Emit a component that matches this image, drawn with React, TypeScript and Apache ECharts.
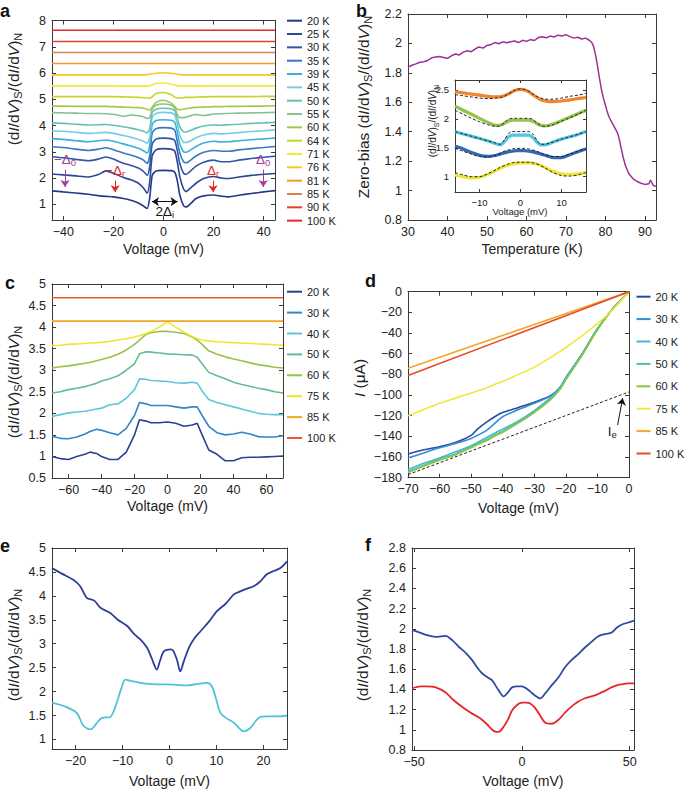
import React, { useEffect, useRef } from 'react';
import * as echarts from 'echarts';

const FONT = "'Liberation Sans', Arial, Helvetica, sans-serif";

// ---------------- Panel a ----------------
const voltageA = [-44.5, -40, -35, -30, -26, -23, -20, -16, -13, -10, -8, -6.5, -5.5, -4.5, -3, 0, 3, 4.5, 5.5, 6.5, 8, 9, 10, 13, 16, 20, 23, 26, 30, 35, 40, 44.5];
const edgesA = [-44.5, 44.5];
const a20K = [1.51, 1.47, 1.43, 1.38, 1.33, 1.30, 1.28, 1.22, 1.15, 1.05, 0.93, 0.84, 1.25, 2.10, 2.27, 2.29, 2.28, 2.22, 1.90, 1.35, 0.95, 0.90, 0.95, 1.22, 1.32, 1.35, 1.31, 1.28, 1.34, 1.41, 1.47, 1.52];
const a25K = [2.15, 2.12, 2.08, 2.04, 2.13, 2.27, 2.18, 2.02, 1.93, 1.80, 1.62, 1.42, 1.85, 2.85, 3.07, 3.12, 3.10, 3.02, 2.62, 2.05, 1.58, 1.48, 1.55, 1.80, 1.98, 2.06, 2.00, 1.98, 2.04, 2.10, 2.14, 2.17];
const a30K = [2.81, 2.77, 2.71, 2.66, 2.72, 2.80, 2.72, 2.56, 2.48, 2.38, 2.25, 2.10, 2.45, 3.30, 3.48, 3.52, 3.50, 3.42, 3.05, 2.55, 2.18, 2.14, 2.20, 2.45, 2.60, 2.68, 2.62, 2.62, 2.68, 2.74, 2.79, 2.83];
const a35K = [3.19, 3.16, 3.10, 3.05, 3.10, 3.15, 3.08, 2.95, 2.87, 2.78, 2.68, 2.55, 2.85, 3.72, 3.88, 3.92, 3.90, 3.82, 3.40, 2.95, 2.62, 2.58, 2.62, 2.84, 2.98, 3.05, 3.02, 3.02, 3.07, 3.12, 3.16, 3.20];
const a39K = [3.50, 3.47, 3.42, 3.38, 3.42, 3.45, 3.40, 3.30, 3.22, 3.13, 3.04, 2.95, 3.25, 4.05, 4.19, 4.22, 4.20, 4.12, 3.75, 3.30, 3.00, 2.98, 3.02, 3.20, 3.33, 3.40, 3.37, 3.38, 3.42, 3.46, 3.49, 3.52];
const a45K = [3.80, 3.78, 3.74, 3.70, 3.72, 3.74, 3.70, 3.62, 3.55, 3.47, 3.40, 3.32, 3.55, 4.32, 4.46, 4.50, 4.48, 4.40, 4.05, 3.62, 3.36, 3.35, 3.38, 3.53, 3.64, 3.70, 3.68, 3.70, 3.73, 3.77, 3.80, 3.83];
const a50K = [4.10, 4.08, 4.05, 4.02, 4.03, 4.04, 4.01, 3.95, 3.90, 3.84, 3.78, 3.72, 3.88, 4.50, 4.62, 4.66, 4.64, 4.56, 4.28, 3.95, 3.76, 3.75, 3.78, 3.90, 3.98, 4.02, 4.01, 4.03, 4.05, 4.08, 4.10, 4.12];
const a55K = [4.49, 4.48, 4.47, 4.46, 4.46, 4.45, 4.43, 4.35, 4.40, 4.37, 4.33, 4.27, 4.30, 4.62, 4.78, 4.82, 4.78, 4.66, 4.42, 4.30, 4.30, 4.32, 4.35, 4.42, 4.38, 4.44, 4.45, 4.46, 4.47, 4.48, 4.49, 4.50];
const a60K = [4.74, 4.74, 4.73, 4.73, 4.73, 4.73, 4.72, 4.70, 4.69, 4.68, 4.66, 4.62, 4.58, 4.70, 4.88, 4.96, 4.86, 4.72, 4.62, 4.60, 4.62, 4.64, 4.66, 4.69, 4.70, 4.72, 4.72, 4.73, 4.73, 4.74, 4.74, 4.75];
const a64K = [5.10, 5.10, 5.10, 5.10, 5.10, 5.10, 5.10, 5.09, 5.08, 5.07, 5.06, 5.05, 5.04, 5.10, 5.22, 5.26, 5.18, 5.08, 5.05, 5.05, 5.06, 5.07, 5.07, 5.08, 5.09, 5.10, 5.10, 5.10, 5.10, 5.10, 5.11, 5.11];
const a71K = [5.51, 5.51, 5.51, 5.51, 5.51, 5.51, 5.51, 5.50, 5.50, 5.50, 5.50, 5.50, 5.51, 5.55, 5.60, 5.62, 5.58, 5.54, 5.52, 5.51, 5.51, 5.51, 5.51, 5.51, 5.51, 5.51, 5.51, 5.51, 5.51, 5.51, 5.51, 5.51];
const a76K = [5.93, 5.93, 5.93, 5.93, 5.93, 5.93, 5.93, 5.93, 5.93, 5.93, 5.93, 5.94, 5.95, 5.97, 5.99, 6.01, 5.99, 5.97, 5.95, 5.94, 5.93, 5.93, 5.93, 5.93, 5.93, 5.93, 5.93, 5.93, 5.93, 5.93, 5.93, 5.93];
const a81K = [6.36, 6.36];
const a85K = [6.78, 6.78];
const a90K = [7.2, 7.2];
const a100K = [7.63, 7.63];
const tempsA = ['20 K', '25 K', '30 K', '35 K', '39 K', '45 K', '50 K', '55 K', '60 K', '64 K', '71 K', '76 K', '81 K', '85 K', '90 K', '100 K'];
const colorsA = ['#27378c', '#2b4696', '#2f55a4', '#3a78c0', '#38b0e0', '#72cde6', '#64c3b0', '#86c28c', '#a2c84e', '#c6d42c', '#f2e83a', '#f6c624', '#f29a2e', '#d9824a', '#e8402a', '#e3262a'];
const ticksAX = [-40, -20, 0, 20, 40];
const ticksAY = [1, 2, 3, 4, 5, 6, 7, 8];

// ---------------- Panel b ----------------
const temperatureB = [30, 31, 32, 33, 34, 35, 36, 37, 38, 39, 40, 41, 42, 43, 44, 45, 46, 47, 48, 49, 50, 51, 52, 53, 54, 55, 56, 57, 58, 59, 60, 61, 62, 63, 64, 65, 66, 67, 68, 69, 70, 71, 72, 73, 74, 75, 76, 76.5, 77, 77.5, 78, 78.5, 79, 79.5, 80, 80.5, 81, 82, 83, 83.5, 84, 84.5, 85, 85.5, 86, 87, 88, 89, 90, 91, 91.4, 91.8, 92.2, 92.8];
const zeroBiasB = [1.840, 1.852, 1.861, 1.872, 1.876, 1.884, 1.902, 1.908, 1.911, 1.905, 1.899, 1.916, 1.928, 1.922, 1.941, 1.950, 1.944, 1.962, 1.976, 1.968, 1.986, 1.992, 2.006, 1.998, 2.011, 2.004, 2.012, 2.016, 2.006, 2.021, 2.014, 2.026, 2.020, 2.040, 2.046, 2.039, 2.050, 2.044, 2.056, 2.050, 2.060, 2.046, 2.036, 2.042, 2.030, 2.036, 2.020, 2.008, 1.980, 1.920, 1.845, 1.760, 1.685, 1.625, 1.580, 1.530, 1.495, 1.445, 1.395, 1.350, 1.285, 1.225, 1.175, 1.140, 1.112, 1.080, 1.062, 1.050, 1.042, 1.046, 1.072, 1.050, 1.032, 1.030];
const ticksBX = [30, 40, 50, 60, 70, 80, 90];
const ticksBY = [0.8, 1, 1.2, 1.4, 1.6, 1.8, 2, 2.2];
const voltageInset = [-16, -14, -12, -10, -8, -6, -5, -4, -3, -2, -1, 0, 1, 2, 3, 4, 5, 6, 7, 8, 10, 12, 14, 16];
const insetOrange = [2.47, 2.45, 2.43, 2.41, 2.39, 2.38, 2.38, 2.40, 2.43, 2.47, 2.50, 2.51, 2.50, 2.47, 2.42, 2.37, 2.33, 2.31, 2.30, 2.30, 2.31, 2.33, 2.35, 2.37];
const insetOrangeFit = [2.42, 2.40, 2.38, 2.36, 2.35, 2.36, 2.37, 2.39, 2.43, 2.47, 2.51, 2.52, 2.51, 2.48, 2.43, 2.39, 2.36, 2.34, 2.34, 2.34, 2.36, 2.39, 2.41, 2.44];
const insetGreen = [2.22, 2.15, 2.08, 2.01, 1.94, 1.89, 1.89, 1.92, 1.96, 1.98, 1.98, 1.98, 1.98, 1.98, 1.96, 1.92, 1.89, 1.88, 1.89, 1.91, 1.97, 2.03, 2.09, 2.15];
const insetGreenFit = [2.15, 2.08, 2.01, 1.95, 1.90, 1.87, 1.88, 1.93, 1.99, 2.01, 2.01, 2.01, 2.01, 2.01, 1.99, 1.93, 1.88, 1.87, 1.88, 1.90, 1.96, 2.02, 2.08, 2.15];
const insetCyan = [1.78, 1.74, 1.70, 1.66, 1.62, 1.57, 1.55, 1.60, 1.68, 1.72, 1.72, 1.72, 1.72, 1.72, 1.68, 1.60, 1.55, 1.55, 1.57, 1.60, 1.65, 1.69, 1.73, 1.78];
const insetCyanFit = [1.78, 1.74, 1.70, 1.66, 1.62, 1.58, 1.56, 1.63, 1.74, 1.78, 1.78, 1.78, 1.78, 1.78, 1.74, 1.63, 1.56, 1.56, 1.58, 1.60, 1.65, 1.69, 1.73, 1.78];
const insetBlue = [1.53, 1.48, 1.42, 1.37, 1.35, 1.37, 1.39, 1.41, 1.43, 1.44, 1.45, 1.45, 1.45, 1.44, 1.43, 1.41, 1.39, 1.37, 1.35, 1.33, 1.33, 1.38, 1.43, 1.48];
const insetBlueFit = [1.49, 1.44, 1.39, 1.35, 1.34, 1.37, 1.40, 1.44, 1.46, 1.48, 1.49, 1.49, 1.49, 1.48, 1.46, 1.44, 1.41, 1.38, 1.36, 1.35, 1.35, 1.39, 1.44, 1.49];
const insetYellow = [1.03, 1.00, 0.98, 0.99, 1.04, 1.11, 1.14, 1.18, 1.20, 1.22, 1.23, 1.24, 1.24, 1.24, 1.23, 1.22, 1.19, 1.16, 1.12, 1.09, 1.05, 1.04, 1.05, 1.07];
const insetYellowFit = [1.07, 1.03, 1.00, 1.00, 1.05, 1.12, 1.16, 1.19, 1.22, 1.24, 1.25, 1.25, 1.25, 1.25, 1.24, 1.22, 1.19, 1.15, 1.11, 1.07, 1.02, 1.01, 1.03, 1.07];
const ticksInsetX = [-10, 0, 10];
const ticksInsetY = [1, 1.5, 2, 2.5];

// ---------------- Panel c ----------------
const voltageC = [-70, -65, -60, -55, -50, -47, -43, -40, -35, -30, -25, -20, -17, -13, -10, -5, 0, 5, 10, 15, 18, 21, 25, 30, 35, 40, 45, 50, 55, 60, 65, 70];
const edgesC = [-70, 70];
const c20K = [1.0, 0.95, 0.93, 1.0, 1.05, 1.1, 1.07, 1.0, 0.93, 0.93, 1.1, 1.5, 1.85, 1.82, 1.78, 1.78, 1.8, 1.77, 1.7, 1.73, 1.77, 1.5, 1.15, 1.05, 0.9, 0.9, 0.97, 0.98, 0.98, 0.99, 1.0, 1.01];
const c30K = [1.47, 1.42, 1.41, 1.45, 1.52, 1.58, 1.63, 1.61, 1.55, 1.5, 1.65, 1.95, 2.25, 2.22, 2.18, 2.18, 2.18, 2.15, 2.12, 2.15, 2.15, 1.95, 1.7, 1.55, 1.5, 1.52, 1.56, 1.52, 1.46, 1.45, 1.45, 1.48];
const c40K = [1.93, 1.97, 2.01, 2.03, 2.05, 2.07, 2.1, 2.12, 2.2, 2.22, 2.35, 2.55, 2.8, 2.79, 2.76, 2.75, 2.74, 2.71, 2.7, 2.72, 2.7, 2.52, 2.32, 2.25, 2.2, 2.15, 2.1, 2.05, 2.0, 1.98, 1.97, 1.97];
const c50K = [2.47, 2.5, 2.55, 2.58, 2.62, 2.65, 2.7, 2.75, 2.8, 2.87, 3.0, 3.15, 3.38, 3.43, 3.42, 3.4, 3.38, 3.37, 3.36, 3.35, 3.3, 3.15, 2.95, 2.87, 2.8, 2.72, 2.67, 2.63, 2.58, 2.55, 2.5, 2.47];
const c60K = [3.05, 3.08, 3.1, 3.13, 3.16, 3.18, 3.22, 3.25, 3.3, 3.37, 3.47, 3.6, 3.7, 3.83, 3.87, 3.9, 3.9, 3.88, 3.85, 3.77, 3.7, 3.6, 3.45, 3.37, 3.31, 3.26, 3.22, 3.17, 3.13, 3.1, 3.07, 3.05];
const c75K = [3.57, 3.58, 3.6, 3.61, 3.62, 3.63, 3.64, 3.65, 3.67, 3.7, 3.73, 3.77, 3.8, 3.85, 3.9, 4.0, 4.12, 4.0, 3.88, 3.78, 3.73, 3.7, 3.68, 3.66, 3.65, 3.64, 3.63, 3.62, 3.61, 3.6, 3.59, 3.58];
const c85K = [4.14, 4.14];
const c100K = [4.68, 4.68];
const tempsC = ['20 K', '30 K', '40 K', '50 K', '60 K', '75 K', '85 K', '100 K'];
const colorsC = ['#2b3f94', '#2f86cc', '#5ec6dc', '#5fbf8f', '#98c246', '#efe632', '#f5a623', '#ea5a2b'];
const ticksCX = [-60, -40, -20, 0, 20, 40, 60];
const ticksCY = [0.5, 1, 1.5, 2, 2.5, 3, 3.5, 4, 4.5, 5];

// ---------------- Panel d ----------------
const voltageD = [-70, -65, -60, -55, -50, -48, -45, -42, -40, -35, -30, -25, -22, -20, -15, -10, -5, 0];
const edgesD = [-70, 0];
const d20K = [-157, -153, -150, -146, -139, -133, -126, -120, -117, -112, -107, -101, -94, -84, -61, -36, -16, 0];
const d30K = [-161, -156, -151, -147, -142, -139, -134, -126, -121, -114, -108, -101, -93, -83, -61, -36, -16, 0];
const d40K = [-172, -166, -161, -155, -149, -146, -141, -136, -133, -125, -115, -103, -94, -84, -61, -36, -16, 0];
const d50K = [-174, -168, -162, -157, -150, -147, -143, -138, -135, -126, -116, -104, -95, -85, -62, -36, -16, 0];
const d60K = [-175, -169, -163, -158, -151, -148, -144, -139, -136, -127, -117, -105, -95, -85, -62, -37, -16, 0];
const d75K = [-120, -114, -108, -103, -98, -96, -93, -89, -87, -80, -73, -64, -58, -54, -43, -31, -17, 0];
const d85K = [-74, 0];
const d100K = [-81, 0];
const dFitLine = [-177, -97];
const tempsD = ['20 K', '30 K', '40 K', '50 K', '60 K', '75 K', '85 K', '100 K'];
const colorsD = ['#2a4a9e', '#2e8fd6', '#40b8d8', '#52c0a4', '#8dc63f', '#f0e83a', '#f4a62a', '#e8492a'];
const ticksDX = [-70, -60, -50, -40, -30, -20, -10, 0];
const ticksDY = [-180, -160, -140, -120, -100, -80, -60, -40, -20, 0];

// ---------------- Panel e ----------------
const voltageETop = [-25, -23, -20.4, -19, -17.6, -16, -14.7, -12.6, -11, -9, -7.5, -6.2, -4.8, -3.8, -2.7, -2, -1.2, 0.3, 0.8, 1.6, 2.3, 3, 4.1, 5.2, 6.6, 8.3, 10.1, 12, 13.7, 15.2, 16.5, 17.9, 19.3, 20.7, 22.2, 23.6, 25];
const eTop = [4.58, 4.47, 4.33, 4.2, 3.96, 3.9, 3.75, 3.64, 3.5, 3.37, 3.2, 3.09, 2.92, 2.7, 2.46, 2.65, 2.84, 2.88, 2.85, 2.66, 2.42, 2.62, 2.91, 3.1, 3.26, 3.45, 3.68, 3.84, 4.03, 4.1, 4.15, 4.2, 4.3, 4.45, 4.52, 4.58, 4.72];
const voltageEBottom = [-25, -22, -19.7, -18.3, -16.8, -15.4, -14.4, -12.6, -11.5, -10.3, -9.4, -8, -6.2, -3, -0.5, 3.7, 6, 8, 9, 9.9, 10.8, 12, 13.7, 15.8, 17.2, 18.3, 19.3, 20.7, 22.9, 25];
const eBottom = [1.77, 1.68, 1.55, 1.28, 1.21, 1.35, 1.45, 1.47, 1.69, 2.05, 2.25, 2.22, 2.18, 2.15, 2.15, 2.13, 2.16, 2.18, 2.11, 1.85, 1.56, 1.45, 1.35, 1.17, 1.24, 1.38, 1.47, 1.48, 1.48, 1.5];
const ticksEX = [-20, -10, 0, 10, 20];
const ticksEY = [1, 1.5, 2, 2.5, 3, 3.5, 4, 4.5, 5];

// ---------------- Panel f ----------------
const voltageF = [-51, -47, -44.6, -40, -35.4, -32, -29.2, -26, -23.1, -20.5, -18.5, -16, -13.8, -12, -10.8, -8.5, -6.5, -4.6, -2, 0, 2, 3.8, 6, 8.5, 10.8, 13.8, 17, 20, 23, 26.2, 29, 32.3, 35, 36.9, 39, 41.5, 44, 46.2, 49, 52];
const fBlue = [1.99, 1.96, 1.94, 1.92, 1.93, 1.88, 1.82, 1.76, 1.69, 1.61, 1.56, 1.52, 1.49, 1.43, 1.39, 1.33, 1.37, 1.42, 1.43, 1.43, 1.41, 1.38, 1.34, 1.31, 1.36, 1.44, 1.52, 1.62, 1.69, 1.75, 1.81, 1.87, 1.92, 1.94, 1.95, 1.96, 2.01, 2.04, 2.06, 2.08];
const fRed = [1.41, 1.43, 1.43, 1.42, 1.37, 1.30, 1.25, 1.20, 1.16, 1.13, 1.10, 1.05, 1.00, 0.98, 0.98, 1.03, 1.10, 1.19, 1.25, 1.27, 1.27, 1.26, 1.22, 1.14, 1.07, 1.06, 1.10, 1.17, 1.23, 1.28, 1.31, 1.33, 1.35, 1.37, 1.39, 1.42, 1.44, 1.45, 1.46, 1.46];
const ticksFX = [-50, 0, 50];
const ticksFY = [0.8, 1, 1.2, 1.4, 1.6, 1.8, 2, 2.2, 2.4, 2.6, 2.8];

// ---------------- helpers ----------------
const TXT = '#222';
const AX = '#3a3a3a';
const fmt = (v: number) => String(Math.round(v * 100) / 100).replace('-', '\u2212');
const pts = (xs: number[], ys: number[]) => xs.map((x, i) => [x, ys[i]]);
const ratioName = '(d{i|I}/d{i|V}){s|S}/(d{i|I}/d{i|V}){s|N}';

function richFor(fs: number) {
  const sub = Math.round(fs * 0.68);
  return {
    i: { fontSize: fs, fontStyle: 'italic', fill: TXT, color: TXT, fontFamily: FONT, lineHeight: fs + 5 },
    s: { fontSize: sub, fill: TXT, color: TXT, fontFamily: FONT, lineHeight: sub, verticalAlign: 'bottom' },
  };
}

interface AxisSpec { min: number; max: number; ticks: number[]; name?: string; nameGap?: number; fs?: number; tick?: number }

function makeAxis(gi: number, s: AxisSpec, position: string, main: boolean, isY: boolean) {
  const fs = s.fs ?? 12.5;
  return {
    type: 'value', gridIndex: gi, position, min: s.min, max: s.max, silent: true,
    axisLine: { show: true, onZero: false, lineStyle: { color: AX, width: 1 } },
    axisTick: { show: true, inside: true, length: s.tick ?? 4, customValues: s.ticks, lineStyle: { color: AX, width: 1 } },
    axisLabel: { show: main, customValues: s.ticks, formatter: fmt, color: TXT, fontSize: fs, fontFamily: FONT, margin: isY ? 6 : 5 },
    splitLine: { show: false },
    name: main && !isY ? s.name ?? '' : '',
    nameLocation: 'middle', nameGap: s.nameGap ?? 20,
    nameTextStyle: { fontSize: 14, color: TXT, fontFamily: FONT },
  };
}

function line(name: string, xi: number, yi: number, xs: number[], ys: number[], color: string, width = 1.5, extra: any = {}) {
  return {
    type: 'line', name, xAxisIndex: xi, yAxisIndex: yi, data: pts(xs, ys), symbol: 'none', showSymbol: false,
    color, lineStyle: { color, width }, silent: true, ...extra,
  };
}

function titleText(text: string, x: number, y: number, fs: number, rotate: boolean) {
  return {
    type: 'text', x, y, rotation: rotate ? Math.PI / 2 : 0, silent: true, z: 10,
    style: {
      text, fill: TXT, fontSize: fs, fontFamily: FONT, align: 'center', verticalAlign: 'middle',
      lineHeight: fs + 5, rich: richFor(fs),
    },
  };
}

function buildOption() {
  const grids: any[] = [];
  const xAxes: any[] = [];
  const yAxes: any[] = [];
  const series: any[] = [];

  const panel = (box: number[], xs: AxisSpec, ys: AxisSpec, bg?: string) => {
    const gi = grids.length;
    grids.push({ left: box[0], top: box[1], width: box[2], height: box[3], show: !!bg, backgroundColor: bg ?? 'transparent', borderWidth: 0 });
    const xi = xAxes.length;
    xAxes.push(makeAxis(gi, xs, 'bottom', true, false));
    xAxes.push(makeAxis(gi, xs, 'top', false, false));
    const yi = yAxes.length;
    yAxes.push(makeAxis(gi, ys, 'left', true, true));
    yAxes.push(makeAxis(gi, ys, 'right', false, true));
    return { xi, yi };
  };

  // ---- a ----
  const A = panel([52, 20.5, 223, 199.5],
    { min: -44.5, max: 44.5, ticks: ticksAX, name: 'Voltage (mV)', nameGap: 22 },
    { min: 0.4, max: 8, ticks: ticksAY });
  const curvesA: [number[], number[]][] = [
    [voltageA, a20K], [voltageA, a25K], [voltageA, a30K], [voltageA, a35K], [voltageA, a39K], [voltageA, a45K],
    [voltageA, a50K], [voltageA, a55K], [voltageA, a60K], [voltageA, a64K], [voltageA, a71K], [voltageA, a76K],
    [edgesA, a81K], [edgesA, a85K], [edgesA, a90K], [edgesA, a100K],
  ];
  const purple = '#a23d9e';
  const red = '#e3262a';
  const annLabel = (text: string, color: string, pos = 'start') => ({
    show: true, position: pos, distance: 2, formatter: text, color, fontSize: 13.5, fontFamily: FONT,
    rich: { s: { fontSize: 9.5, color, fontFamily: FONT, lineHeight: 9, verticalAlign: 'bottom' } },
    lineHeight: 16,
  });
  curvesA.forEach(([xs, ys], i) => {
    const extra: any = { smooth: 0.2 };
    if (i === 0) {
      extra.markLine = {
        silent: true, symbol: ['none', 'arrow'], symbolSize: 7, animation: false,
        lineStyle: { type: 'solid', width: 1 },
        data: [
          [{ coord: [-39.3, 2.32], lineStyle: { color: purple, type: 'solid' }, label: annLabel('\u2212\u0394{s|0}', purple) }, { coord: [-39.3, 1.66] }],
          [{ coord: [-19.3, 1.9], lineStyle: { color: red, type: 'solid' }, label: annLabel('\u2212\u0394{s|r}', red) }, { coord: [-19.3, 1.46] }],
          [{ coord: [19.8, 1.9], lineStyle: { color: red, type: 'solid' }, label: annLabel('\u0394{s|r}', red) }, { coord: [19.8, 1.46] }],
          [{ coord: [39.8, 2.32], lineStyle: { color: purple, type: 'solid' }, label: annLabel('\u0394{s|0}', purple) }, { coord: [39.8, 1.66] }],
          [{ coord: [-4.6, 1.1], symbol: 'arrow', lineStyle: { color: '#111', type: 'solid' }, label: annLabel('2\u0394{s|i}', '#111', 'insideMiddleBottom') }, { coord: [5.6, 1.1], symbol: 'arrow' }],
        ],
      };
    }
    series.push(line(tempsA[i], A.xi, A.yi, xs, ys, colorsA[i], 1.6, extra));
  });

  // ---- b ----
  const B = panel([408, 14, 248, 206],
    { min: 30, max: 92.8, ticks: ticksBX, name: 'Temperature (K)', nameGap: 22 },
    { min: 0.8, max: 2.2, ticks: ticksBY });
  series.push(line('Zero-bias', B.xi, B.yi, temperatureB, zeroBiasB, '#9e2f96', 1.5));

  const I = panel([455, 80, 131, 112],
    { min: -16, max: 16, ticks: ticksInsetX, fs: 9.5, tick: 3 },
    { min: 0.735, max: 2.673, ticks: ticksInsetY, fs: 9.5, tick: 3 }, '#ffffff');
  const insetPairs: [number[], number[], string][] = [
    [insetOrange, insetOrangeFit, '#f0852e'],
    [insetGreen, insetGreenFit, '#92c648'],
    [insetCyan, insetCyanFit, '#52c6de'],
    [insetBlue, insetBlueFit, '#3468b4'],
    [insetYellow, insetYellowFit, '#eee632'],
  ];
  insetPairs.forEach(([d, f, c], k) => {
    series.push(line('inset-' + k, I.xi, I.yi, voltageInset, d, c, 3.2, { smooth: 0.3 }));
  });
  insetPairs.forEach(([d, f, c], k) => {
    series.push(line('inset-fit-' + k, I.xi, I.yi, voltageInset, f, '#222', 1, { smooth: 0.3, lineStyle: { color: '#222', width: 1, type: [3, 2] }, z: 3 }));
  });

  // ---- c ----
  const C = panel([52, 284, 231, 194],
    { min: -70, max: 70, ticks: ticksCX, name: 'Voltage (mV)', nameGap: 21 },
    { min: 0.5, max: 5, ticks: ticksCY });
  const curvesC: [number[], number[]][] = [
    [voltageC, c20K], [voltageC, c30K], [voltageC, c40K], [voltageC, c50K], [voltageC, c60K], [voltageC, c75K], [edgesC, c85K], [edgesC, c100K],
  ];
  curvesC.forEach(([xs, ys], i) => series.push(line(tempsC[i], C.xi, C.yi, xs, ys, colorsC[i], 1.6)));

  // ---- d ----
  const D = panel([408, 291.7, 221, 186],
    { min: -70, max: 0, ticks: ticksDX, name: 'Voltage (mV)', nameGap: 23 },
    { min: -180, max: 0, ticks: ticksDY });
  const curvesD: [number[], number[]][] = [
    [voltageD, d20K], [voltageD, d30K], [voltageD, d40K], [voltageD, d50K], [voltageD, d60K], [voltageD, d75K], [edgesD, d85K], [edgesD, d100K],
  ];
  curvesD.forEach(([xs, ys], i) => series.push(line(tempsD[i], D.xi, D.yi, xs, ys, colorsD[i], 1.6, { smooth: 0.3 })));
  series.push(line('Ie', D.xi, D.yi, edgesD, dFitLine, '#222', 1, {
    lineStyle: { color: '#222', width: 1, type: [3, 2] },
    markLine: {
      silent: true, symbol: ['none', 'arrow'], symbolSize: 7, animation: false,
      lineStyle: { type: 'solid', width: 1, color: '#111' },
      label: { show: false },
      data: [[{ coord: [-3.6, -129] }, { coord: [-2.0, -103] }]],
    },
    markPoint: {
      silent: true, symbol: 'circle', symbolSize: 0, animation: false,
      data: [{
        coord: [-5.3, -135.5],
        label: {
          show: true, position: 'inside', formatter: 'I{s|e}', color: '#222', fontSize: 13.5, fontFamily: FONT, lineHeight: 16,
          rich: { s: { fontSize: 9.5, color: '#222', fontFamily: FONT, lineHeight: 9, verticalAlign: 'bottom' } },
        },
      }],
    },
  }));

  // ---- e ----
  const E = panel([52, 548, 235, 201],
    { min: -25, max: 25, ticks: ticksEX, name: 'Voltage (mV)', nameGap: 25 },
    { min: 0.8, max: 5, ticks: ticksEY });
  series.push(line('e-top', E.xi, E.yi, voltageETop, eTop, '#2c3f94', 1.8, { smooth: 0.3 }));
  series.push(line('e-bottom', E.xi, E.yi, voltageEBottom, eBottom, '#4ec3d8', 1.8, { smooth: 0.3 }));

  // ---- f ----
  const F = panel([412, 548, 222, 202],
    { min: -51, max: 52, ticks: ticksFX, name: 'Voltage (mV)', nameGap: 24 },
    { min: 0.8, max: 2.8, ticks: ticksFY });
  series.push(line('f-blue', F.xi, F.yi, voltageF, fBlue, '#2e4aa0', 1.8, { smooth: 0.3 }));
  series.push(line('f-red', F.xi, F.yi, voltageF, fRed, '#e8262a', 1.8, { smooth: 0.3 }));

  const legend = (left: number, top: number, gap: number, names: string[], colors: string[], fs: number, w = 15) => ({
    orient: 'vertical', left, top, itemWidth: w, itemHeight: 2, itemGap: gap, icon: 'rect', selectedMode: false,
    padding: 0, textStyle: { fontSize: fs, lineHeight: 13, color: TXT, fontFamily: FONT },
    data: names.map((n, i) => ({ name: n, itemStyle: { color: colors[i] } })),
  });

  const letters: [string, number, number][] = [['a', 0, 2], ['b', 356, 2], ['c', 5, 274], ['d', 365, 272], ['e', 0, 537], ['f', 365, 536]];

  const graphicTexts = [
    titleText(ratioName, 13, 89, 15.5, true),
    titleText('Zero-bias ' + ratioName, 363, 107, 15.5, true),
    titleText(ratioName, 432, 121, 10, true),
    titleText('Voltage (mV)', 520, 211.5, 9.5, false),
    titleText(ratioName, 13, 382, 15.5, true),
    titleText('{i|I} (\u03bcA)', 359, 378, 15.5, true),
    titleText(ratioName, 13, 645, 15.5, true),
    titleText(ratioName, 362, 645, 15.5, true),
  ];

  return {
    animation: false,
    backgroundColor: '#ffffff',
    textStyle: { fontFamily: FONT },
    title: letters.map(([t, l, tp]) => ({ text: t, left: l, top: tp, padding: 0, textStyle: { fontSize: 18, fontWeight: 'bold', color: '#111', fontFamily: FONT } })),
    legend: [
      legend(287, 14.2, 0.33, tempsA, colorsA, 11),
      legend(287, 285.2, 7.9, tempsC, colorsC, 11),
      legend(636.5, 290.2, 9.4, tempsD, colorsD, 11, 14),
    ],
    grid: grids,
    xAxis: xAxes,
    yAxis: yAxes,
    graphic: { elements: graphicTexts },
    series,
  };
}

export default function App() {
  const ref = useRef<HTMLDivElement>(null);
  useEffect(() => {
    if (!ref.current) return;
    const chart = echarts.init(ref.current, null, { renderer: 'svg' });
    chart.setOption(buildOption() as any);
    return () => chart.dispose();
  }, []);
  return <div ref={ref} style={{ position: 'absolute', left: 0, top: 0, width: 685, height: 789, background: '#fff' }} />;
}
